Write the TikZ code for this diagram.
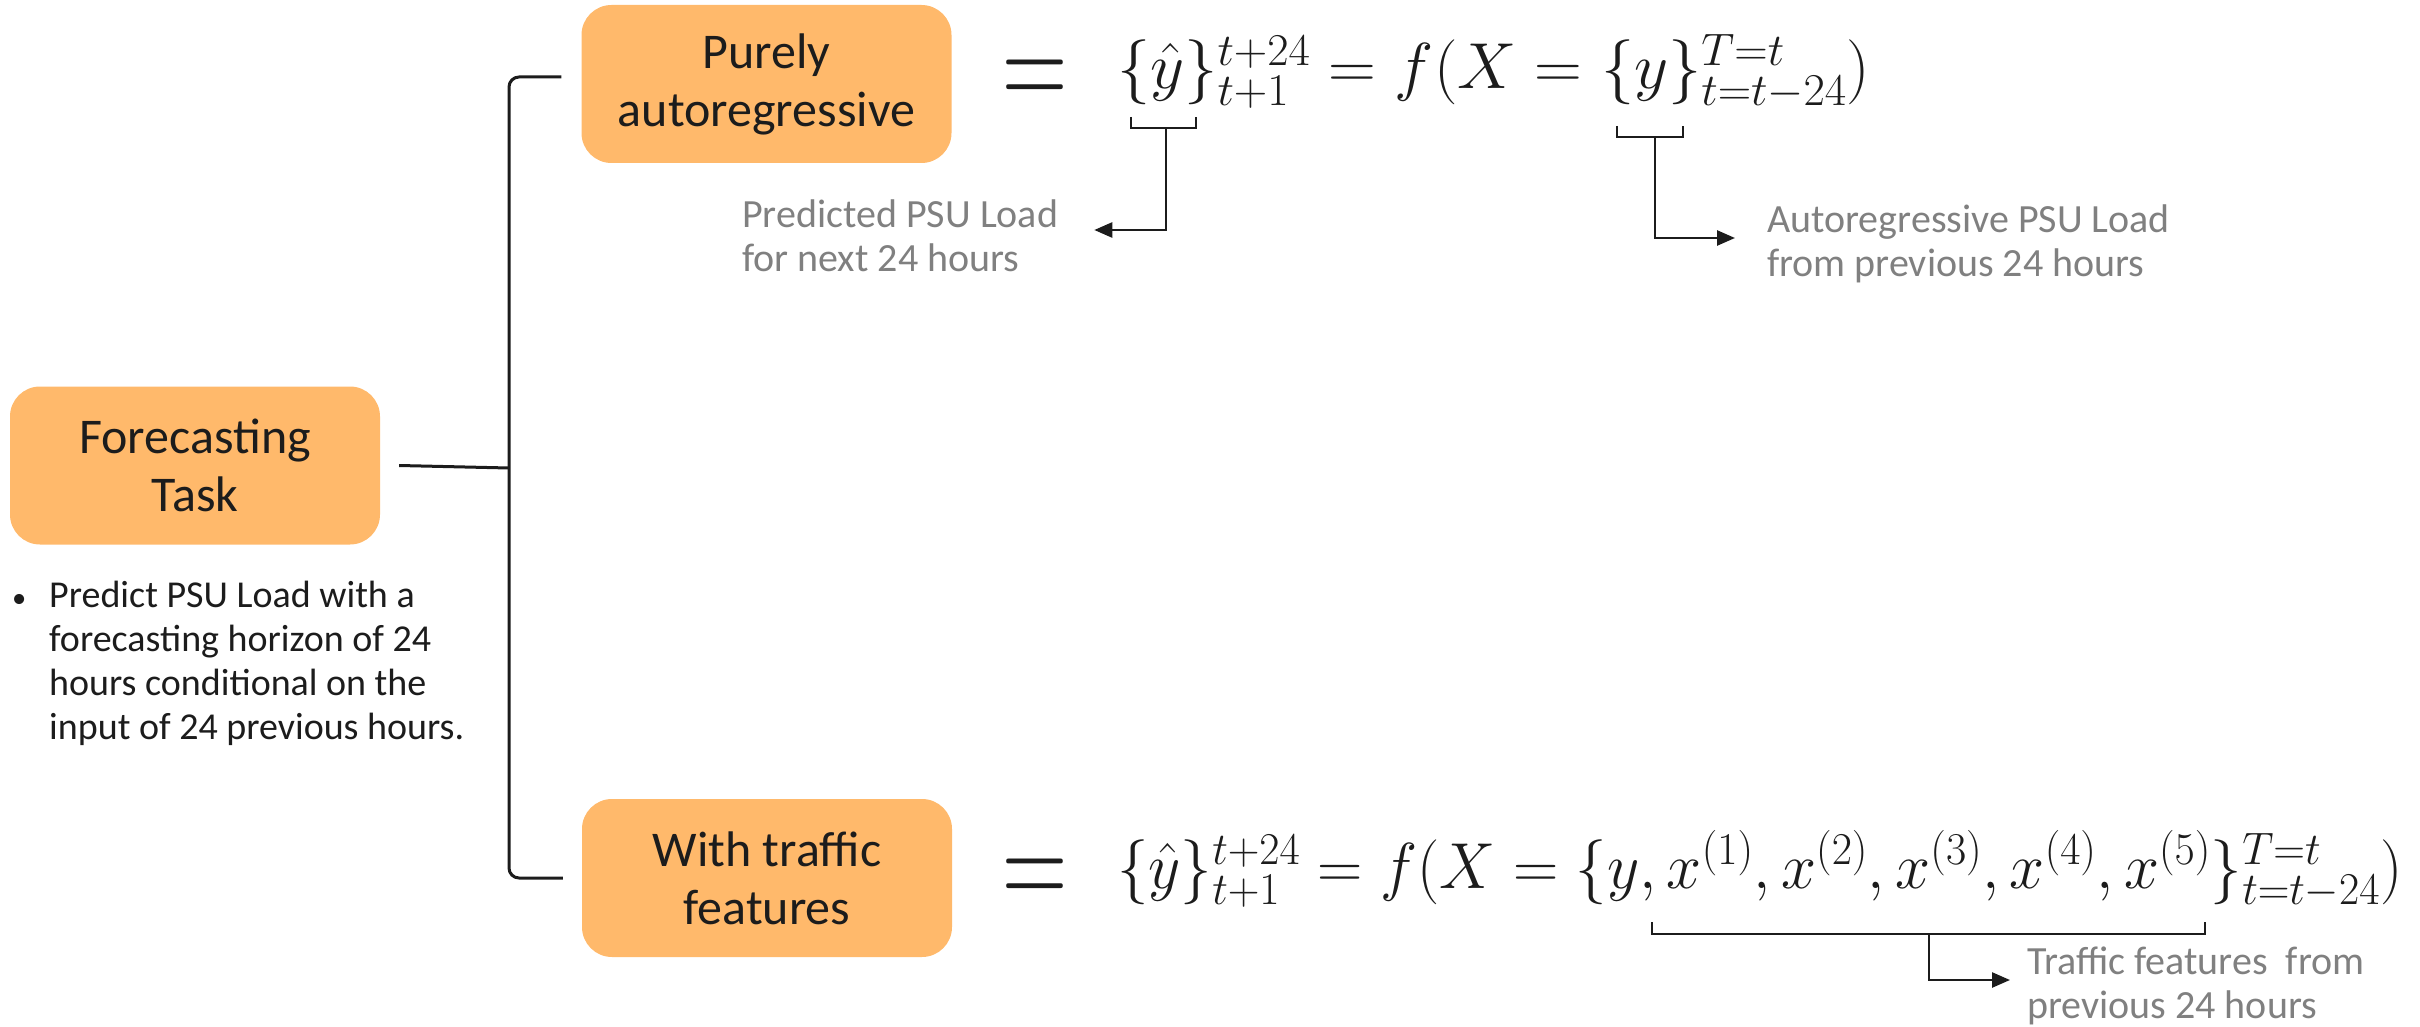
\RequirePackage{fix-cm}
\documentclass[tikz,border=0pt]{standalone}
\usepackage{fontspec}
\setmainfont{Carlito}
\usepackage{graphicx}
\usetikzlibrary{arrows.meta}

\definecolor{boxorange}{RGB}{255,185,107}
\definecolor{notegray}{RGB}{128,128,128}
\definecolor{ink}{RGB}{28,28,28}

\begin{document}
\begin{tikzpicture}[x=1pt,y=-1pt,
  taskbox/.style={fill=boxorange, rounded corners=30pt, minimum width=370pt,
    minimum height=158pt, align=center, text=ink, inner sep=0pt,
    font=\fontsize{50}{58}\selectfont},
  note/.style={text=notegray, align=left, inner sep=0pt, anchor=west,
    font=\fontsize{40}{44}\selectfont},
  formula/.style={inner sep=0pt, anchor=base west, text=ink,
    font=\fontsize{65}{78}\selectfont},
  bigeq/.style={inner sep=0pt, anchor=base, text=ink,
    font=\fontsize{139}{150}\selectfont},
  tree/.style={line width=3pt, draw=ink},
  brk/.style={line width=2.5pt, draw=ink},
  pointer/.style={line width=2.5pt, draw=ink,
    -{Triangle[length=18pt,width=15pt]}},
]
\path[use as bounding box] (0,0) rectangle (2420,1027);

% task boxes
\node[taskbox] (ft) at (195,465.5) {Forecasting\\Task};
\node[taskbox] (pa) at (766.5,84) {Purely\\autoregressive};
\node[taskbox] (wt) at (767,878) {With traffic\\features};

% description under the root box
\node[anchor=west, inner sep=0pt, text=ink,
  font=\fontsize{38}{44}\selectfont] (desc) at (12,665)
  {\begin{tabular}{@{}p{37pt}@{}l@{}}
   \scalebox{0.75}{•} & Predict PSU Load with a\\
   & forecasting horizon of 24\\
   & hours conditional on the\\
   & input of 24 previous hours.
   \end{tabular}};

% tree connectors
\coordinate (spine) at (509,468);
\draw[tree] ([xshift=19pt]ft.east) -- (spine);
\draw[tree, rounded corners=10pt] ([xshift=-20pt,yshift=7pt]pa.west) -| (spine)
  |- ([xshift=-19pt]wt.west);

% definitions
\node[bigeq] (eqa) at (1035,110) {\scalebox{0.65}[1]{$=$}};
\node[bigeq] (eqb) at (1035,908) {\scalebox{0.65}[1]{$=$}};
\node[formula] (f1) at (1117,89)
  {\resizebox{753pt}{\height}{$\{\hat{y}\}_{t+1}^{t+24} = f(X = \{y\}_{t=t-24}^{T=t})$}};
\node[formula] (f2) at (1117,888)
  {\resizebox{1285pt}{\height}{$\{\hat{y}\}_{t+1}^{t+24} = f(X = \{y, x^{(1)}, x^{(2)}, x^{(3)}, x^{(4)}, x^{(5)}\}_{t=t-24}^{T=t})$}};

% annotations
\node[note] (pred) at (742,236) {Predicted PSU Load\\for next 24 hours};
\node[note] (auto) at (1767,244) {Autoregressive PSU Load\\from previous 24 hours};
\node[note] (traf) at (2027,986) {Traffic features\ \ from\\previous 24 hours};

\draw[brk] (1131,117) -- (1131,128) -- (1196,128) -- (1196,117);
\coordinate (b1) at (1166,128);
\draw[brk] (1617,126) -- (1617,137) -- (1683,137) -- (1683,126);
\coordinate (b2) at (1655,137);
\draw[brk] (1652,922) -- (1652,934) -- (2205,934) -- (2205,922);
\coordinate (b3) at (1929,934);

\draw[pointer] (b1) |- ([xshift=36pt,yshift=6pt]pred.east);
\draw[pointer] (b2) |- ([xshift=-32pt,yshift=6pt]auto.west);
\draw[pointer] (b3) |- ([xshift=-17pt,yshift=6pt]traf.west);
\end{tikzpicture}
\end{document}
